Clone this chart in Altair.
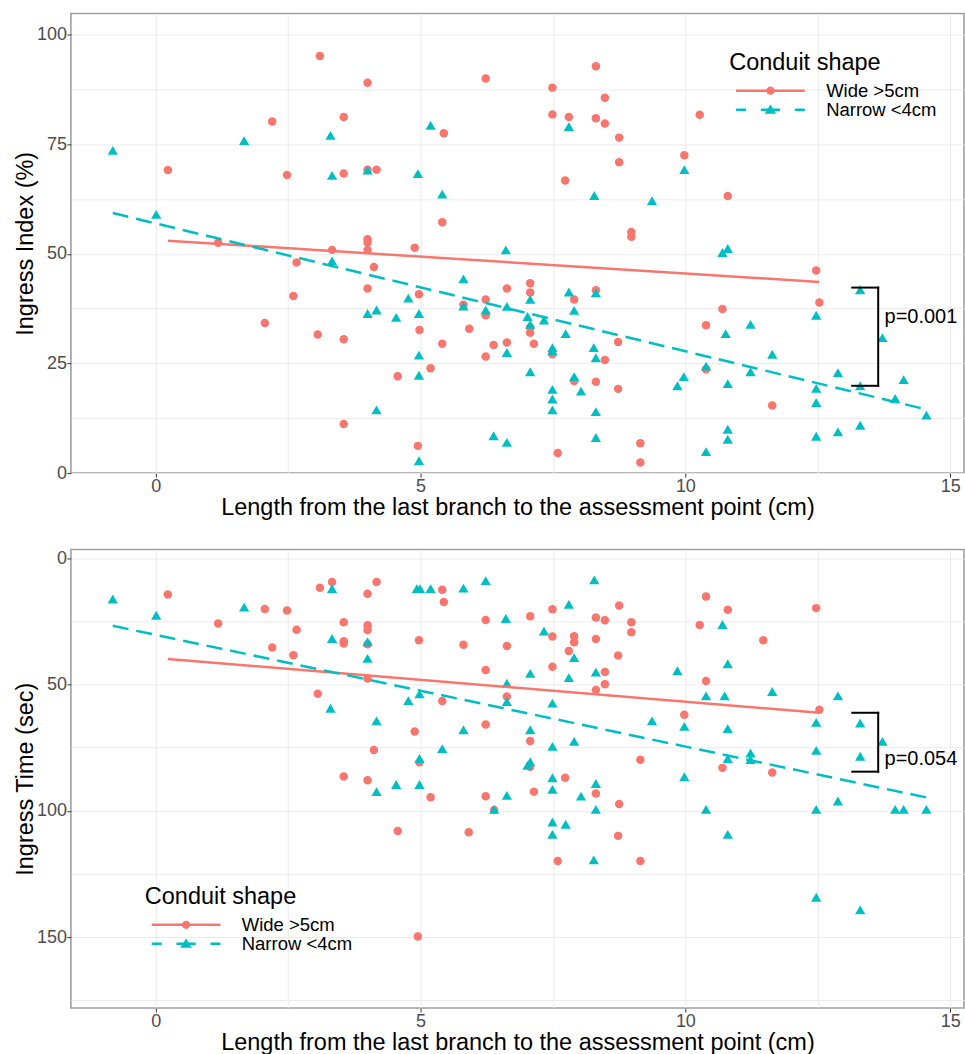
import altair as alt
import pandas as pd

# ---------------- text / categories ----------------
GROUPS = ["Wide >5cm", "Narrow <4cm"]
COLORS = ["#F8766D", "#00BFC4"]
LEGEND_TITLE = "Conduit shape"
X_TITLE = "Length from the last branch to the assessment point (cm)"
TOP_Y_TITLE = "Ingress Index (%)"
BOT_Y_TITLE = "Ingress Time (sec)"

X_DOMAIN = [-1.6, 15.26]
X_GRID = [0, 2.5, 5, 7.5, 10, 12.5, 15]
TOP_Y_DOMAIN = [0, 104.8]
TOP_Y_GRID = [0, 12.5, 25, 37.5, 50, 62.5, 75, 87.5, 100]
BOT_Y_DOMAIN = [-3.4, 178]
BOT_Y_GRID = [0, 25, 50, 75, 100, 125, 150, 175]

# ---------------- top panel data (Ingress Index) ----------------
TOP_WIDE_X = [3.10, 4.0, 6.23, 2.2, 3.55, 5.44, 0.23, 2.48, 3.55, 4.0, 4.17, 5.41, 4.0, 4.0, 4.0,
              3.33, 1.18, 4.89, 2.66, 4.12, 4.0, 2.6, 4.97, 5.81, 6.23, 6.23, 6.63, 2.06, 4.98, 5.92,
              3.06, 3.55, 5.41, 6.38, 6.63, 6.23, 5.19, 4.57, 3.55, 4.95, 8.31, 7.49, 8.48, 7.49, 7.8,
              8.31, 8.48, 10.27, 8.75, 9.98, 8.75, 7.73, 10.80, 8.98, 8.98, 12.47, 12.53, 7.07, 7.07,
              8.31, 7.90, 7.07, 7.07, 7.14, 7.49, 8.73, 8.48, 7.9, 8.31, 8.73, 10.39, 10.70, 10.39,
              11.64, 7.59, 9.15, 9.15]
TOP_WIDE_Y = [95.1, 89.0, 90.0, 80.2, 81.2, 77.5, 69.1, 68.0, 68.3, 69.2, 69.2, 57.2, 53.3, 52.6, 50.9,
              50.9, 52.5, 51.4, 48.0, 47.0, 42.1, 40.4, 40.8, 38.4, 39.6, 36.0, 42.1, 34.2, 32.6, 32.9,
              31.6, 30.5, 29.5, 29.2, 29.8, 26.6, 23.9, 22.1, 11.2, 6.2, 92.8, 87.9, 85.6, 81.8, 81.2,
              80.9, 79.7, 81.7, 76.5, 72.5, 70.9, 66.7, 63.2, 55.0, 53.9, 46.2, 38.9, 43.3, 41.2,
              41.7, 39.6, 33.2, 32.0, 29.5, 27.1, 29.9, 25.8, 21.0, 20.8, 19.2, 33.7, 37.4, 23.7,
              15.4, 4.6, 6.8, 2.4]
TOP_NARROW_X = [-0.81, 1.67, 3.30, 5.19, 3.33, 4.0, 4.95, 5.41, 0.01, 6.61, 3.33, 5.81, 4.77, 5.81,
                6.23, 6.63, 4.0, 4.17, 4.54, 4.97, 4.97, 6.63, 4.97, 4.17, 6.38, 6.63, 4.97, 7.8, 9.98,
                8.28, 9.37, 10.70, 10.80, 13.30, 12.47, 13.72, 7.07, 7.8, 7.9, 7.02, 7.33, 7.07, 8.31,
                7.74, 7.49, 7.49, 8.27, 8.31, 7.07, 7.49, 7.49, 7.49, 7.9, 8.03, 8.31, 8.31, 10.76,
                11.23, 10.39, 9.97, 9.85, 10.80, 11.23, 11.64, 12.47, 12.47, 12.88, 13.30, 14.12,
                13.96, 14.55, 12.47, 12.88, 13.30, 10.80, 10.80, 10.39]
TOP_NARROW_Y = [73.6, 75.8, 77.0, 79.3, 67.9, 69.1, 68.3, 63.6, 59.0, 50.9, 48.4, 44.3, 39.9, 38.1,
                37.2, 38.0, 36.4, 37.2, 35.5, 36.4, 26.9, 27.5, 22.3, 14.4, 8.5, 7.0, 2.8, 79.0, 69.2,
                63.3, 62.1, 50.3, 51.2, 41.8, 36.0, 30.9, 39.6, 41.3, 37.1, 35.7, 34.9, 33.9, 41.1,
                31.8, 28.6, 27.9, 28.6, 26.3, 23.1, 19.1, 16.9, 14.4, 22.0, 18.7, 14.0, 8.1, 31.8,
                33.9, 24.4, 22.0, 19.9, 20.4, 23.1, 27.1, 19.3, 16.1, 22.9, 19.9, 21.3,
                17.0, 13.2, 8.4, 9.4, 10.9, 10.0, 7.7, 4.9]
TOP_FIT_WIDE_X = [0.23, 12.53]
TOP_FIT_WIDE_Y = [53.0, 43.6]
TOP_FIT_NARROW_X = [-0.81, 14.55]
TOP_FIT_NARROW_Y = [59.3, 14.5]
TOP_BRACKET_X = [13.15, 13.64]
TOP_BRACKET_Y = [19.9, 42.3]
TOP_P_TEXT = "p=0.001"
TOP_P_X = 13.76
TOP_P_Y = 35.6

# ---------------- bottom panel data (Ingress Time) ----------------
BOT_WIDE_X = [0.23, 3.10, 3.33, 4.17, 4.0, 5.41, 5.44, 1.18, 2.06, 2.48, 2.66, 3.55, 4.0, 4.0, 2.2,
              2.6, 3.55, 3.55, 4.0, 4.97, 5.81, 6.23, 6.63, 6.23, 4.0, 3.06, 5.41, 6.63, 6.23, 4.89,
              4.12, 4.98, 3.55, 4.0, 5.19, 6.23, 7.07, 7.49, 8.31, 8.48, 8.75, 8.98, 8.98, 7.49, 7.9,
              7.9, 8.31, 7.8, 8.73, 7.49, 8.48, 8.48, 8.31, 10.39, 10.80, 10.27, 11.47, 12.47, 10.39,
              9.98, 12.53, 7.07, 7.07, 9.15, 10.70, 11.64, 7.73, 7.14, 8.31, 8.75, 8.73, 7.59, 9.15,
              4.95, 4.57, 5.91, 6.39]
BOT_WIDE_Y = [14.4, 11.7, 9.5, 9.5, 14.1, 12.5, 17.4, 25.9, 20.1, 20.7, 28.4, 25.4, 26.6, 28.5, 35.4,
              38.4, 32.9, 33.8, 34.1, 32.5, 34.3, 24.5, 34.8, 44.3, 47.6, 53.7, 56.5, 54.8, 65.8, 68.6,
              75.9, 80.8, 86.4, 87.9, 94.6, 94.2, 23.0, 20.2, 23.5, 24.6, 18.8, 25.4, 29.3, 31.0, 30.9,
              33.3, 32.0, 36.8, 38.5, 43.0, 45.1, 49.9, 52.2, 15.2, 20.4, 26.5, 32.5, 19.8, 48.6,
              62.0, 60.0, 72.4, 82.6, 79.8, 83.0, 84.8, 86.9, 92.4, 93.1, 97.3, 109.9, 119.8, 119.8,
              149.7, 108.0, 108.5, 99.7]
BOT_NARROW_X = [-0.81, 0.01, 1.67, 3.33, 4.93, 4.99, 5.19, 5.81, 6.23, 6.61, 3.33, 4.0, 4.0, 6.63,
                6.63, 3.30, 4.98, 4.77, 4.17, 5.81, 5.41, 4.98, 4.17, 4.54, 4.98, 6.63, 8.28, 7.8,
                7.33, 10.70, 7.9, 10.80, 7.07, 7.8, 8.31, 9.85, 7.49, 10.39, 10.74, 11.64, 12.88,
                9.37, 9.98, 10.80, 12.47, 13.30, 13.72, 12.47, 13.30, 7.07, 7.49, 7.9, 7.07, 7.02,
                10.80, 11.23, 11.23, 7.49, 7.49, 8.31, 9.98, 8.03, 8.31, 7.49, 7.74, 7.49, 8.27,
                10.39, 10.80, 12.47, 12.88, 13.96, 14.12, 14.55, 12.47, 13.30, 6.39]
BOT_NARROW_Y = [16.2, 22.6, 19.4, 12.1, 12.1, 12.1, 12.1, 11.9, 8.9, 23.9, 31.8, 33.1, 39.7, 49.5,
                56.8, 59.4, 53.7, 56.4, 64.4, 67.9, 75.4, 79.3, 92.4, 89.6, 89.6, 93.9, 8.6, 18.3,
                28.9, 26.3, 39.4, 41.8, 45.6, 47.3, 45.1, 44.6, 57.4, 54.5, 54.5, 52.8, 54.5,
                64.4, 66.6, 67.5, 65.0, 65.3, 72.5, 76.1, 78.4, 67.9, 74.5, 72.5, 80.6, 82.0,
                79.3, 77.1, 79.7, 86.9, 91.5, 89.2, 86.5, 94.2, 99.4, 104.4, 105.3, 109.3, 119.4,
                99.4, 109.3, 99.4, 96.1, 99.4, 99.4, 99.4, 134.2, 139.2, 99.4]
BOT_FIT_WIDE_X = [0.23, 12.53]
BOT_FIT_WIDE_Y = [39.9, 61.2]
BOT_FIT_NARROW_X = [-0.81, 14.55]
BOT_FIT_NARROW_Y = [26.8, 94.7]
BOT_BRACKET_X = [13.15, 13.64]
BOT_BRACKET_Y = [61.2, 84.5]
BOT_P_TEXT = "p=0.054"
BOT_P_X = 13.76
BOT_P_Y = 79.4

# ---------------- styling ----------------
FONT = "Liberation Sans"
W, H_TOP, H_BOT = 894, 460, 459
# legend symbols: line + marker drawn as filled shapes (unit = sqrt(symbolSize)/2 px)
PATH_WIDE = ("M-4.3,-0.16L-0.45,-0.16L-0.45,0.16L-4.3,0.16Z "
             "M0.45,-0.16L4.3,-0.16L4.3,0.16L0.45,0.16Z "
             "M0.52,0A0.52,0.52 0 1,1 -0.52,0A0.52,0.52 0 1,1 0.52,0Z")
PATH_NARROW = ("M-4.3,-0.16L-3.05,-0.16L-3.05,0.16L-4.3,0.16Z "
               "M-1.2,-0.16L-0.3,-0.16L-0.3,0.16L-1.2,0.16Z "
               "M0.3,-0.16L1.2,-0.16L1.2,0.16L0.3,0.16Z "
               "M3.05,-0.16L4.3,-0.16L4.3,0.16L3.05,0.16Z "
               "M0,-0.66L0.72,0.5L-0.72,0.5Z")


def x_enc(title_pad):
    return alt.X("x:Q", scale=alt.Scale(domain=X_DOMAIN, nice=False, zero=False),
                 axis=alt.Axis(values=X_GRID, title=X_TITLE, titlePadding=title_pad,
                               labelExpr="datum.value % 5 === 0 ? datum.label : ''",
                               tickColor={"condition": {"test": "datum.value % 5 !== 0", "value": "transparent"},
                                          "value": "#333333"}))


def y_enc(title, domain, grid, step, reverse):
    return alt.Y("y:Q", scale=alt.Scale(domain=domain, nice=False, zero=False, reverse=reverse),
                 axis=alt.Axis(values=grid, title=title,
                               labelExpr=f"datum.value % {step} === 0 ? datum.label : ''",
                               tickColor={"condition": {"test": f"datum.value % {step} !== 0", "value": "transparent"},
                                          "value": "#333333"}))


def panel(wx, wy, nx, ny, fwx, fwy, fnx, fny, bx, by, ptxt, px_, py_,
          ytitle, ydomain, ygrid, ystep, reverse, height, lx, ly, xpad):
    X = x_enc(xpad)
    Y = y_enc(ytitle, ydomain, ygrid, ystep, reverse)
    wide = alt.Chart(pd.DataFrame({"x": wx, "y": wy})).mark_point(
        filled=True, opacity=1, shape="circle", size=72, color=COLORS[0]).encode(x=X, y=Y)
    narrow = alt.Chart(pd.DataFrame({"x": nx, "y": ny})).mark_point(
        filled=True, opacity=1, shape="triangle-up", size=105, color=COLORS[1]).encode(x=X, y=Y)
    fit_w = alt.Chart(pd.DataFrame({"x": fwx, "y": fwy})).mark_line(
        color=COLORS[0], strokeWidth=2.5).encode(x=X, y=Y)
    fit_n = alt.Chart(pd.DataFrame({"x": fnx, "y": fny})).mark_line(
        color=COLORS[1], strokeWidth=2.5, strokeDash=[16, 8]).encode(x=X, y=Y)
    br = pd.DataFrame({
        "x": [bx[0], bx[0], bx[1]], "x2": [bx[1], bx[1], bx[1]],
        "y": [by[1], by[0], by[0]], "y2": [by[1], by[0], by[1]],
    })
    bracket = alt.Chart(br).mark_rule(color="black", strokeWidth=2, strokeCap="square").encode(
        x=X, x2="x2:Q", y=Y, y2="y2:Q")
    ptext = alt.Chart(pd.DataFrame({"x": [px_], "y": [py_], "t": [ptxt]})).mark_text(
        align="left", baseline="middle", fontSize=20, font=FONT, color="black").encode(x=X, y=Y, text="t:N")
    leg = alt.Legend(title=LEGEND_TITLE, orient="none", legendX=lx, legendY=ly, padding=0,
                     titleFontSize=23.5, titleFont=FONT, titleFontWeight="normal", titleColor="black",
                     titlePadding=7, labelFontSize=18.5, labelFont=FONT, labelColor="black",
                     symbolSize=256, symbolStrokeWidth=0, symbolOpacity=1,
                     symbolOffset=32, labelOffset=46.5, rowPadding=-2)
    legend_layer = alt.Chart(pd.DataFrame({"lab": GROUPS})).transform_filter("false").mark_point(
        filled=True, opacity=1).encode(
        x=X, y=Y,
        color=alt.Color("lab:N", scale=alt.Scale(domain=GROUPS, range=COLORS), legend=leg),
        shape=alt.Shape("lab:N", scale=alt.Scale(domain=GROUPS, range=[PATH_WIDE, PATH_NARROW]), legend=leg),
    )
    return alt.layer(wide, narrow, fit_w, fit_n, bracket, ptext, legend_layer).properties(
        width=W, height=height)


top = panel(TOP_WIDE_X, TOP_WIDE_Y, TOP_NARROW_X, TOP_NARROW_Y,
            TOP_FIT_WIDE_X, TOP_FIT_WIDE_Y, TOP_FIT_NARROW_X, TOP_FIT_NARROW_Y,
            TOP_BRACKET_X, TOP_BRACKET_Y, TOP_P_TEXT, TOP_P_X, TOP_P_Y,
            TOP_Y_TITLE, TOP_Y_DOMAIN, TOP_Y_GRID, 25, False, H_TOP, 659, 37.5, 0)
bottom = panel(BOT_WIDE_X, BOT_WIDE_Y, BOT_NARROW_X, BOT_NARROW_Y,
               BOT_FIT_WIDE_X, BOT_FIT_WIDE_Y, BOT_FIT_NARROW_X, BOT_FIT_NARROW_Y,
               BOT_BRACKET_X, BOT_BRACKET_Y, BOT_P_TEXT, BOT_P_X, BOT_P_Y,
               BOT_Y_TITLE, BOT_Y_DOMAIN, BOT_Y_GRID, 50, True, H_BOT, 74, 336, 0)

chart = alt.vconcat(top, bottom, spacing=27.5).resolve_scale(
    color="independent", shape="independent").resolve_legend(
    color="independent", shape="independent").configure(
    padding={"left": 13, "top": 12, "right": 0, "bottom": 0}, font=FONT,
).configure_view(stroke="#a0a0a0", strokeWidth=1.6).configure_axis(
    labelFont=FONT, titleFont=FONT, labelFontSize=18, titleFontSize=23.5, labelColor="#4d4d4d",
    titleColor="black", titleFontWeight="normal", tickSize=4, labelPadding=0.5,
    gridColor="#ebebeb", gridWidth=1, domain=False, labelFlush=False, labelOverlap=False,
).configure_axisY(titlePadding=-1, minExtent=34, maxExtent=34)

chart.save("out.html", embed_options={"renderer": "svg", "actions": False})
